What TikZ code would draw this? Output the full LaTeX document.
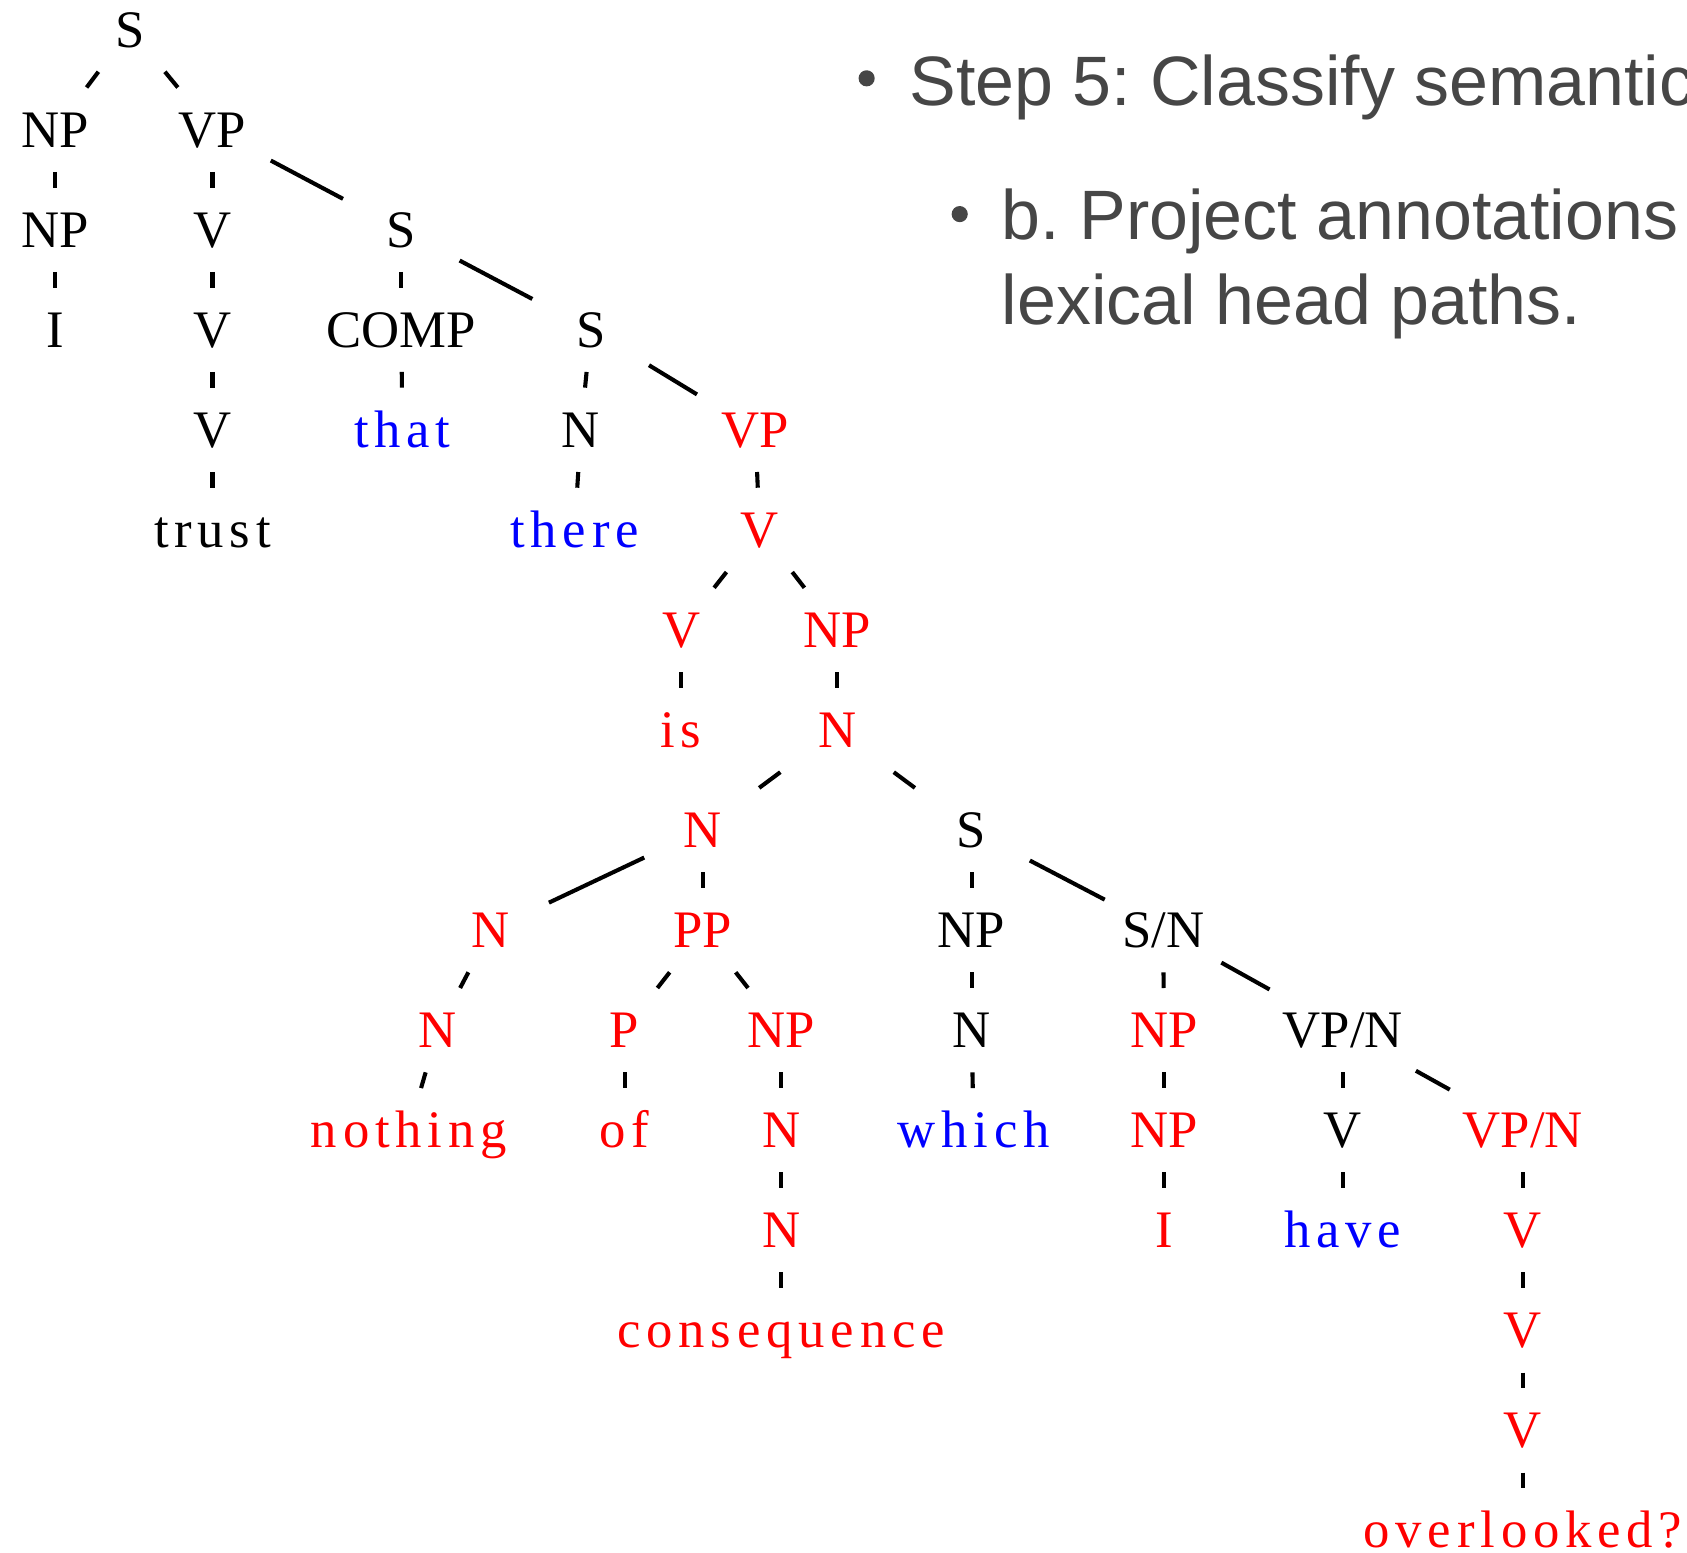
\documentclass[tikz,border=0pt]{standalone}
\usepackage{fontspec}
\setmainfont{Liberation Serif}
\newfontfamily\wordfont[LetterSpace=11]{Liberation Serif}
\newfontfamily\slidefont{Liberation Sans}
\definecolor{hred}{RGB}{255,0,0}
\definecolor{hblue}{RGB}{0,0,255}
\definecolor{slidegray}{RGB}{70,70,70}
\frenchspacing

\begin{document}
\begin{tikzpicture}[x=1pt,y=-1pt,
  cat/.style={rectangle, inner xsep=12pt, inner ysep=0pt,
    minimum width=108pt, minimum height=78pt,
    text height=32.4pt, text depth=0pt,
    font=\fontsize{49}{58}\selectfont, text=black},
  wrd/.style={cat, font=\wordfont\fontsize{49}{58}\selectfont},
  hd/.style={text=hred},
  lx/.style={text=hblue},
  edge/.style={line width=3.8pt, draw=black},
  slide/.style={font=\slidefont\fontsize{65}{79}\selectfont,
    text=slidegray, anchor=base west, inner sep=0pt},
  dot/.style={circle, fill=slidegray, draw=none, inner sep=0pt, minimum size=15pt}
]
\useasboundingbox (0,0) rectangle (1568,1443);

% bullet text
\node[dot] (b1) at (805.5,72.8) {};
\node[slide] (t1) at (845,97.6) {Step 5: Classify semantic};
\node[dot] (b2) at (892,199) {};
\node[slide] (t2) at (931,223) {b. Project annotations};
\node[slide] (t3) at (931,302) {lexical head paths.};

% tree nodes, row by row
\node[cat] (s0) at (121,27.5) {S};

\node[cat] (np1) at (51,120.5) {NP};
\node[cat] (vp1) at (197.5,120.5) {VP};

\node[cat] (np2) at (51,213.5) {NP};
\node[cat] (v2) at (197.5,213.5) {V};
\node[cat] (s2) at (373,213.5) {S};

\node[cat] (i3) at (51,306.5) {I};
\node[cat] (v3) at (197.5,306.5) {V};
\node[cat] (comp3) at (373,306.5) {COMP};
\node[cat] (s3) at (549,306.5) {S};

\node[cat] (v4) at (197.5,399.5) {V};
\node[wrd,lx] (that4) at (374,399.5) {that};
\node[cat] (n4) at (540,399.5) {N};
\node[cat,hd] (vp4) at (702,399.5) {VP};

\node[wrd] (trust5) at (197.5,492.5) {trust};
\node[wrd,lx] (there5) at (534,492.5) {there};
\node[cat,hd] (v5) at (706,492.5) {V};

\node[cat,hd] (v6) at (633,585.5) {V};
\node[cat,hd] (np6) at (778,585.5) {NP};

\node[wrd,hd] (is7) at (633,678.5) {is};
\node[cat,hd] (n7) at (778,678.5) {N};

\node[cat,hd] (n8) at (653,771.5) {N};
\node[cat] (s8) at (903,771.5) {S};

\node[cat,hd] (n9) at (456,864.5) {N};
\node[cat,hd] (pp9) at (653,864.5) {PP};
\node[cat] (np9) at (903,864.5) {NP};
\node[cat] (sn9) at (1081,864.5) {S/N};

\node[cat,hd] (n10) at (407,957.5) {N};
\node[cat,hd] (p10) at (580.5,957.5) {P};
\node[cat,hd] (np10) at (726,957.5) {NP};
\node[cat] (nb10) at (903,957.5) {N};
\node[cat,hd] (npb10) at (1082,957.5) {NP};
\node[cat] (vpn10) at (1248,957.5) {VP/N};

\node[wrd,hd] (nothing11) at (380,1050.5) {nothing};
\node[wrd,hd] (of11) at (580.5,1050.5) {of};
\node[cat,hd] (n11) at (726,1050.5) {N};
\node[wrd,lx] (which11) at (905,1050.5) {which};
\node[cat,hd] (np11) at (1082,1050.5) {NP};
\node[cat] (v11) at (1248,1050.5) {V};
\node[cat,hd] (vpn11) at (1415.5,1050.5) {VP/N};

\node[cat,hd] (n12) at (726,1143.5) {N};
\node[cat,hd] (i12) at (1082,1143.5) {I};
\node[wrd,lx] (have12) at (1248,1143.5) {have};
\node[cat,hd] (v12) at (1415.5,1143.5) {V};

\node[wrd,hd] (cons13) at (726,1236.5) {consequence};
\node[cat,hd] (v13) at (1415.5,1236.5) {V};

\node[cat,hd] (v14) at (1415.5,1329.5) {V};

\node[wrd,hd] (over15) at (1415.5,1422.5) {overlooked?};

% branches
\foreach \p/\c in {s0/np1, s0/vp1,
  np1/np2, vp1/v2, vp1/s2,
  np2/i3, v2/v3, s2/comp3, s2/s3,
  v3/v4, comp3/that4, s3/n4, s3/vp4,
  v4/trust5, n4/there5, vp4/v5,
  v5/v6, v5/np6,
  v6/is7, np6/n7,
  n7/n8, n7/s8,
  n8/n9, n8/pp9, s8/np9, s8/sn9,
  n9/n10, pp9/p10, pp9/np10, np9/nb10, sn9/npb10, sn9/vpn10,
  n10/nothing11, p10/of11, np10/n11, nb10/which11, npb10/np11, vpn10/v11, vpn10/vpn11,
  n11/n12, np11/i12, v11/have12, vpn11/v12,
  n12/cons13, v12/v13,
  v13/v14,
  v14/over15}
  \draw[edge] (\p) -- (\c);
\end{tikzpicture}
\end{document}
